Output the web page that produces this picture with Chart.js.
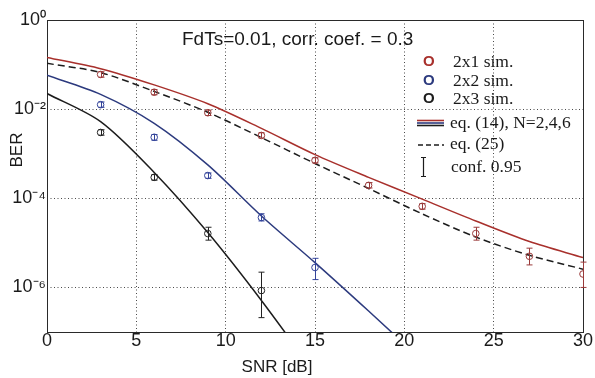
<!DOCTYPE html>
<html>
<head>
<meta charset="utf-8">
<script src="https://cdn.jsdelivr.net/npm/chart.js@4.4.1/dist/chart.umd.min.js"></script>
<style>
  html, body { margin: 0; padding: 0; background: #fff; }
</style>
</head>
<body>
<canvas id="c" width="595" height="378"></canvas>
<script>
// SNR grid of the analytic curves (dB)
const snrCurve = [0, 3, 6, 9, 12, 15, 18, 21, 24, 27, 30];
const eq14N2 = [1.45e-1, 8.1e-2, 3.5e-2, 1.32e-2, 3.7e-3, 9.55e-4, 2.95e-4, 9.55e-5, 3.09e-5, 1.07e-5, 4.68e-6];
const eq25 = [1.07e-1, 6.6e-2, 2.5e-2, 8.5e-3, 2.3e-3, 6.03e-4, 1.66e-4, 4.47e-5, 1.35e-5, 5.25e-6, 2.57e-6];
const snrN4 = [0, 3, 6, 9, 12, 15, 18, 21];
const eq14N4 = [5.75e-2, 2.14e-2, 4.8e-3, 5.6e-4, 4.0e-5, 3.6e-6, 2.95e-7, 2.3e-8];
const snrN6 = [0, 3, 6, 9, 12, 15];
const eq14N6 = [2.24e-2, 5.25e-3, 3.8e-4, 1.7e-5, 5.1e-7, 1.17e-8];

// simulation points with 0.95 confidence bounds
const snrSim2x1 = [3, 6, 9, 12, 15, 18, 21, 24, 27, 30];
const sim2x1 = [6.0e-2, 2.4e-2, 8.3e-3, 2.57e-3, 7.1e-4, 1.95e-4, 6.6e-5, 1.62e-5, 5.0e-6, 2.0e-6];
const hi2x1 = [6.9e-2, 2.75e-2, 9.5e-3, 2.95e-3, 8.1e-4, 2.25e-4, 7.6e-5, 2.24e-5, 7.6e-6, 3.7e-6];
const lo2x1 = [5.2e-2, 2.1e-2, 7.2e-3, 2.25e-3, 6.2e-4, 1.7e-4, 5.7e-5, 1.15e-5, 3.2e-6, 1.0e-6];
const snrSim2x2 = [3, 6, 9, 12, 15];
const sim2x2 = [1.26e-2, 2.34e-3, 3.24e-4, 3.7e-5, 2.8e-6];
const hi2x2 = [1.45e-2, 2.7e-3, 3.7e-4, 4.5e-5, 4.5e-6];
const lo2x2 = [1.1e-2, 2.0e-3, 2.8e-4, 3.1e-5, 1.5e-6];
const snrSim2x3 = [3, 6, 9, 12];
const sim2x3 = [3.0e-3, 2.95e-4, 1.62e-5, 8.5e-7];
const hi2x3 = [3.45e-3, 3.4e-4, 2.24e-5, 2.2e-6];
const lo2x3 = [2.6e-3, 2.55e-4, 1.15e-5, 2.1e-7];

const yTicks = [1, 1e-2, 1e-4, 1e-6];
const yTickLabels = ['10\u2070', '10\u207B\u00B2', '10\u207B\u2074', '10\u207B\u2076'];
const legendLabels = ['2x1 sim.', '2x2 sim.', '2x3 sim.', 'eq. (14), N=2,4,6', 'eq. (25)', 'conf. 0.95'];
const note = 'FdTs=0.01, corr. coef. = 0.3';
const xTitle = 'SNR [dB]';
const yTitle = 'BER';

const RED = '#a8302c', BLUE = '#2c3a7e', BLACK = '#1c1c1c';
const SANS = '"Liberation Sans", Arial, sans-serif';
const SERIF = '"Liberation Serif", "Times New Roman", serif';
const pts = (xs, ys) => xs.map((x, i) => ({ x, y: ys[i] }));

function curve(xs, ys, color, dash) {
  return {
    data: pts(xs, ys), borderColor: color, borderWidth: 1.5, borderDash: dash || [],
    pointRadius: 0, tension: 0.3, fill: false, order: 2
  };
}
function sim(xs, ys, lo, hi, color) {
  return {
    data: pts(xs, ys), showLine: false, pointRadius: 3.3, pointBorderWidth: 1,
    pointBorderColor: color, pointBackgroundColor: 'transparent', borderColor: color,
    errLo: lo, errHi: hi, order: 1
  };
}

const errorBars = {
  id: 'errorBars',
  afterDatasetsDraw(chart) {
    const { ctx, scales: { x, y } } = chart;
    chart.data.datasets.forEach(ds => {
      if (!ds.errLo) return;
      ctx.save();
      ctx.strokeStyle = ds.borderColor;
      ctx.lineWidth = 1;
      ds.data.forEach((p, i) => {
        const px = Math.round(x.getPixelForValue(p.x)) + 0.5;
        const y1 = y.getPixelForValue(ds.errHi[i]);
        const y2 = y.getPixelForValue(ds.errLo[i]);
        ctx.beginPath();
        ctx.moveTo(px, y1); ctx.lineTo(px, y2);
        ctx.moveTo(px - 3, y1); ctx.lineTo(px + 3, y1);
        ctx.moveTo(px - 3, y2); ctx.lineTo(px + 3, y2);
        ctx.stroke();
      });
      ctx.restore();
    });
  }
};

const frame = {
  id: 'frame',
  beforeDatasetsDraw(chart) {
    const { ctx, chartArea: a } = chart;
    ctx.save();
    ctx.strokeStyle = '#2a2a2a';
    ctx.lineWidth = 1;
    ctx.strokeRect(a.left + 0.5, a.top + 0.5, a.right - a.left, a.bottom - a.top);
    ctx.restore();
  }
};

const annotations = {
  id: 'annotations',
  afterDraw(chart) {
    const ctx = chart.ctx;
    ctx.save();
    ctx.textBaseline = 'middle';
    ctx.fillStyle = '#1a1a1a';
    ctx.font = '17px ' + SANS;
    ctx.textAlign = 'center';
    ctx.fillText(xTitle, 277, 367);
    ctx.save();
    ctx.translate(17, 150);
    ctx.rotate(-Math.PI / 2);
    ctx.fillText(yTitle, 0, 0);
    ctx.restore();
    ctx.textAlign = 'left';
    ctx.font = '19px ' + SANS;
    ctx.fillText(note, 182, 40);

    const oColors = [RED, BLUE, BLACK];
    const oY = [62, 81, 99];
    oY.forEach((yy, i) => {
      ctx.font = 'bold 15px ' + SANS;
      ctx.fillStyle = oColors[i];
      ctx.fillText('O', 423, yy);
      ctx.font = '17.5px ' + SERIF;
      ctx.fillStyle = '#1a1a1a';
      ctx.fillText(legendLabels[i], 453, yy);
    });
    ctx.font = '17.5px ' + SERIF;
    // eq. (14) symbol: three stacked lines
    ctx.lineWidth = 1.6;
    [[RED, 120.5], [BLUE, 123], [BLACK, 125.5]].forEach(([c, yy]) => {
      ctx.strokeStyle = c;
      ctx.beginPath(); ctx.moveTo(417, yy); ctx.lineTo(444, yy); ctx.stroke();
    });
    ctx.fillText(legendLabels[3], 450, 123);
    // eq. (25) symbol
    ctx.strokeStyle = BLACK; ctx.lineWidth = 1.3;
    ctx.setLineDash([5, 3]);
    ctx.beginPath(); ctx.moveTo(418, 145); ctx.lineTo(444, 145); ctx.stroke();
    ctx.setLineDash([]);
    ctx.fillText(legendLabels[4], 450, 144);
    // conf. symbol
    ctx.lineWidth = 1.2;
    ctx.beginPath();
    ctx.moveTo(423.5, 157); ctx.lineTo(423.5, 177);
    ctx.moveTo(421, 157.5); ctx.lineTo(426, 157.5);
    ctx.moveTo(421, 176.5); ctx.lineTo(426, 176.5);
    ctx.stroke();
    ctx.fillText(legendLabels[5], 451, 167);
    ctx.restore();
  }
};

const tickFont = { family: SANS, size: 18, lineHeight: 1 };
const gridStyle = {
  color: c => (c.tick && (c.tick.value === 0 || c.tick.value === 30 || c.tick.value === 1)) ? 'transparent' : '#4a4a4a',
  lineWidth: 1, drawTicks: false
};

new Chart(document.getElementById('c'), {
  type: 'line',
  data: {
    datasets: [
      curve(snrCurve, eq14N2, RED),
      curve(snrCurve, eq25, BLACK, [7, 4]),
      curve(snrN4, eq14N4, BLUE),
      curve(snrN6, eq14N6, BLACK),
      sim(snrSim2x1, sim2x1, lo2x1, hi2x1, '#9a3a3a'),
      sim(snrSim2x2, sim2x2, lo2x2, hi2x2, '#34449a'),
      sim(snrSim2x3, sim2x3, lo2x3, hi2x3, '#222222')
    ]
  },
  options: {
    responsive: false, animation: false, devicePixelRatio: 1,
    layout: { padding: { top: 20, right: 12, left: 0, bottom: 0 } },
    plugins: { legend: { display: false }, tooltip: { enabled: false } },
    scales: {
      x: {
        type: 'linear', min: 0, max: 30,
        ticks: { stepSize: 5, color: '#1a1a1a', font: tickFont, padding: 0, maxRotation: 0 },
        grid: gridStyle,
        border: { display: false, dash: [1, 2.5] },
        afterFit: s => { s.height = 46; }
      },
      y: {
        type: 'logarithmic', min: 1e-7, max: 1,
        afterBuildTicks: s => { s.ticks = yTicks.map(v => ({ value: v })); },
        ticks: { color: '#1a1a1a', font: tickFont, padding: 1, callback: v => yTickLabels[yTicks.indexOf(v)] },
        grid: gridStyle,
        border: { display: false, dash: [1, 2.5] },
        afterFit: s => { s.width = 47; }
      }
    }
  },
  plugins: [frame, errorBars, annotations]
});
</script>
</body>
</html>
